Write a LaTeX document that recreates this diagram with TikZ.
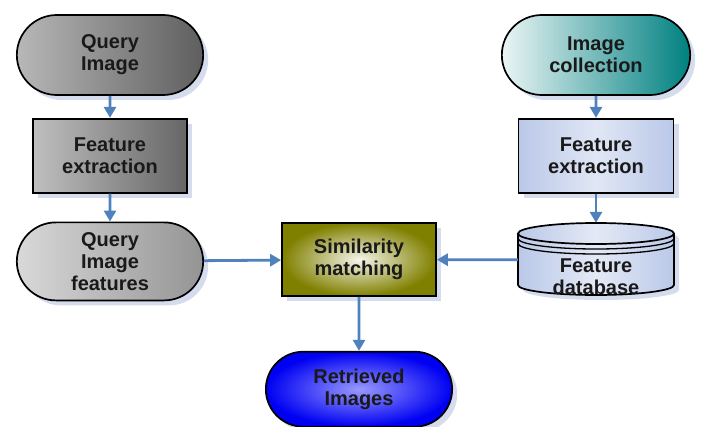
\documentclass[tikz,border=0pt]{standalone}
\usepackage{fontspec}
\setmainfont{Liberation Sans}
\usepackage{tikz}
\usetikzlibrary{shapes, shapes.misc, arrows.meta, positioning, shadows}
\usepackage{xcolor}
\definecolor{flowblue}{RGB}{79,129,189}
\definecolor{shadowblue}{RGB}{212,220,238}
\definecolor{teal}{RGB}{0,128,128}
\definecolor{lavender}{RGB}{186,200,232}
\definecolor{olive}{RGB}{128,128,0}
\definecolor{txtgray}{RGB}{25,25,25}

\begin{document}
\begin{tikzpicture}[x=1pt, y=1pt,
    box/.style={draw, line width=1.7pt, align=center, text=txtgray,
        font=\fontsize{20}{22}\selectfont\bfseries,
        drop shadow={shadow xshift=5pt, shadow yshift=-5pt, fill=shadowblue, opacity=1}},
    pill/.style={box, rounded rectangle, minimum width=193pt, minimum height=80pt},
    proc/.style={box, rectangle, minimum width=154pt, minimum height=74pt},
    flow/.style={-{Triangle[length=11pt, width=12pt]}, line width=2.8pt, flowblue}]
    \useasboundingbox (0,0) rectangle (701,426);

    % query side
    \node[pill, left color=black!28, right color=black!63] (qimg) at (110,371) {Query\\Image};
    \node[proc, left color=black!25, right color=black!60, below=22pt of qimg] (fext1) {Feature\\extraction};
    \node[pill, left color=black!15, right color=black!42, minimum height=78pt, below=28pt of fext1] (qfeat) {Query\\Image\\features};

    % collection side
    \node[pill, left color=teal!8, right color=teal, minimum width=195pt] (icoll) at (596,371) {Image\\collection};
    \node[proc, left color=lavender, right color=lavender, middle color=lavender!45, minimum width=155pt, below=22pt of icoll] (fext2) {Feature\\extraction};

    % feature database drum
    \fill[shadowblue] (523,187.5) -- (523,136) arc[start angle=180, end angle=360, x radius=78, y radius=10]
        -- (679,187.5) arc[start angle=0, end angle=180, x radius=78, y radius=10.5] -- cycle;
    \shade[left color=lavender, right color=lavender, middle color=lavender!40]
        (518,192.5) -- (518,141) arc[start angle=180, end angle=360, x radius=78, y radius=10]
        -- (674,192.5) arc[start angle=0, end angle=180, x radius=78, y radius=10.5] -- cycle;
    \draw[line width=1.7pt] (518,192.5) -- (518,141) arc[start angle=180, end angle=360, x radius=78, y radius=10] -- (674,192.5);
    \draw[line width=1.7pt] (596,192.5) ellipse[x radius=78, y radius=10.5];
    \draw[line width=1.3pt] (518,187.5) arc[start angle=180, end angle=360, x radius=78, y radius=10.5];
    \draw[line width=1.3pt] (518,182.5) arc[start angle=180, end angle=360, x radius=78, y radius=10.5];
    \node[minimum width=156pt, minimum height=74pt] (db) at (596,166) {};
    \node[align=center, text=txtgray, font=\fontsize{20}{22}\selectfont\bfseries] (dbtext) at (596,149) {Feature\\database};

    % matching and result
    \node[proc, inner color=olive!8, outer color=olive, minimum height=73pt] (simm) at (359,166.5) {Similarity\\matching};
    \node[pill, inner color=blue!40, outer color=blue!95!black, minimum height=75pt, below=54pt of simm] (rimg) {Retrieved\\Images};

    \draw[flow] (qimg) -- (fext1);
    \draw[flow] (fext1) -- (qfeat);
    \draw[flow] (icoll) -- (fext2);
    \draw[flow] (fext2) -- (db);
    \draw[flow] (qfeat) -- (simm);
    \draw[flow] (db) -- (simm);
    \draw[flow] (simm) -- (rimg);
\end{tikzpicture}
\end{document}
